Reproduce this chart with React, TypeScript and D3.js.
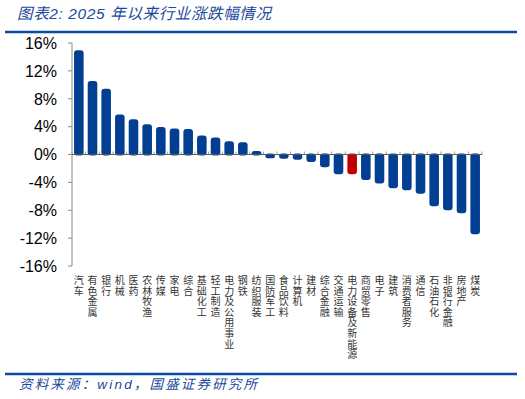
import * as d3 from 'd3';
import { useEffect, useRef } from 'react';

// 2025年以来行业涨跌幅（%）
const industries = [
  '汽车', '有色金属', '银行', '机械', '医药', '农林牧渔', '传媒', '家电', '综合', '基础化工',
  '轻工制造', '电力及公用事业', '钢铁', '纺织服装', '国防军工', '食品饮料', '计算机', '建材', '综合金融', '交通运输',
  '电力设备及新能源', '商贸零售', '电子', '建筑', '消费者服务', '通信', '石油石化', '非银行金融', '房地产', '煤炭',
];
const changes = [
  14.8, 10.4, 9.3, 5.6, 4.9, 4.2, 3.8, 3.6, 3.5, 2.6,
  2.3, 1.75, 1.6, 0.35, -0.4, -0.45, -0.6, -0.95, -1.7, -2.7,
  -2.7, -3.5, -4.0, -4.7, -5.0, -5.5, -7.3, -7.85, -8.3, -11.3,
];
const highlight = ['电力设备及新能源'];
const yTicks = [16, 12, 8, 4, 0, -4, -8, -12, -16];

const title = '图表2:  2025 年以来行业涨跌幅情况';
const source = '资料来源：wind，国盛证券研究所';

export default function App() {
  const ref = useRef<SVGSVGElement>(null);

  useEffect(() => {
    const svg = d3.select(ref.current);
    svg.selectAll('*').remove();

    const blue = '#023E92';
    const textBlue = '#1C4A9C';

    const x = d3.scaleBand<string>().domain(industries).range([72, 482]).paddingInner(0.3).paddingOuter(0.15);
    const y = d3.scaleLinear().domain([-16, 16]).range([266, 43]);

    // title + rules
    svg.append('text')
      .attr('x', 17).attr('y', 19)
      .attr('font-family', 'Liberation Sans, Noto Sans CJK SC, sans-serif')
      .attr('font-style', 'italic')
      .attr('font-size', 15.5)
      .attr('fill', textBlue)
      .attr('textLength', 254)
      .attr('lengthAdjust', 'spacing')
      .text(title);

    svg.append('line').attr('x1', 5).attr('x2', 517).attr('y1', 32).attr('y2', 32)
      .attr('stroke', '#0B4AA2').attr('stroke-width', 2.5);
    svg.append('line').attr('x1', 5).attr('x2', 517).attr('y1', 374).attr('y2', 374)
      .attr('stroke', '#0B4AA2').attr('stroke-width', 2.5);

    svg.append('text')
      .attr('x', 19).attr('y', 389)
      .attr('font-family', 'Liberation Sans, Noto Sans CJK SC, sans-serif')
      .attr('font-style', 'italic')
      .attr('font-size', 13.5)
      .attr('fill', textBlue)
      .attr('textLength', 238)
      .attr('lengthAdjust', 'spacing')
      .text(source);

    // y axis
    const yAxis = svg.append('g');
    yAxis.append('line').attr('x1', 72).attr('x2', 72).attr('y1', y(16)).attr('y2', y(-16))
      .attr('stroke', '#8a8a8a');
    yAxis.selectAll('line.tick').data(yTicks).enter().append('line')
      .attr('class', 'tick')
      .attr('x1', 68).attr('x2', 72)
      .attr('y1', d => y(d)).attr('y2', d => y(d))
      .attr('stroke', '#8a8a8a');
    yAxis.selectAll('text').data(yTicks).enter().append('text')
      .attr('x', 57).attr('y', d => y(d))
      .attr('dy', '0.36em')
      .attr('text-anchor', 'end')
      .attr('font-family', 'Liberation Sans, Arial, sans-serif')
      .attr('font-size', 16)
      .attr('fill', '#000')
      .text(d => `${d}%`);

    // bars
    svg.selectAll('rect.bar').data(industries).enter().append('rect')
      .attr('class', 'bar')
      .attr('x', d => x(d)!)
      .attr('width', x.bandwidth())
      .attr('y', (d, i) => Math.min(y(changes[i]), y(0)) - 1)
      .attr('height', (d, i) => Math.abs(y(changes[i]) - y(0)) + 2)
      .attr('rx', 3)
      .attr('fill', d => (highlight.includes(d) ? '#C00000' : blue));

    // zero line with category ticks
    const z = y(0);
    svg.append('line').attr('x1', 72).attr('x2', 482).attr('y1', z).attr('y2', z)
      .attr('stroke', '#555').attr('stroke-width', 1);
    const step = x.step();
    const edges = d3.range(industries.length + 1).map(i => 72 + i * step);
    svg.selectAll('line.xtick').data(edges).enter().append('line')
      .attr('class', 'xtick')
      .attr('x1', d => d).attr('x2', d => d)
      .attr('y1', z - 3).attr('y2', z)
      .attr('stroke', '#999');

    // vertical category labels, one character per line
    const labels = svg.append('g')
      .attr('font-family', 'Noto Sans CJK SC, sans-serif')
      .attr('font-size', 10)
      .attr('fill', '#333');
    industries.forEach(name => {
      const cx = x(name)! + x.bandwidth() / 2;
      Array.from(name).forEach((ch, j) => {
        labels.append('text')
          .attr('x', cx).attr('y', 284 + j * 10.6)
          .attr('text-anchor', 'middle')
          .text(ch);
      });
    });
  }, []);

  return (
    <svg ref={ref} width={525} height={399}
      style={{ position: 'absolute', left: 0, top: 0, background: '#fff' }} />
  );
}
